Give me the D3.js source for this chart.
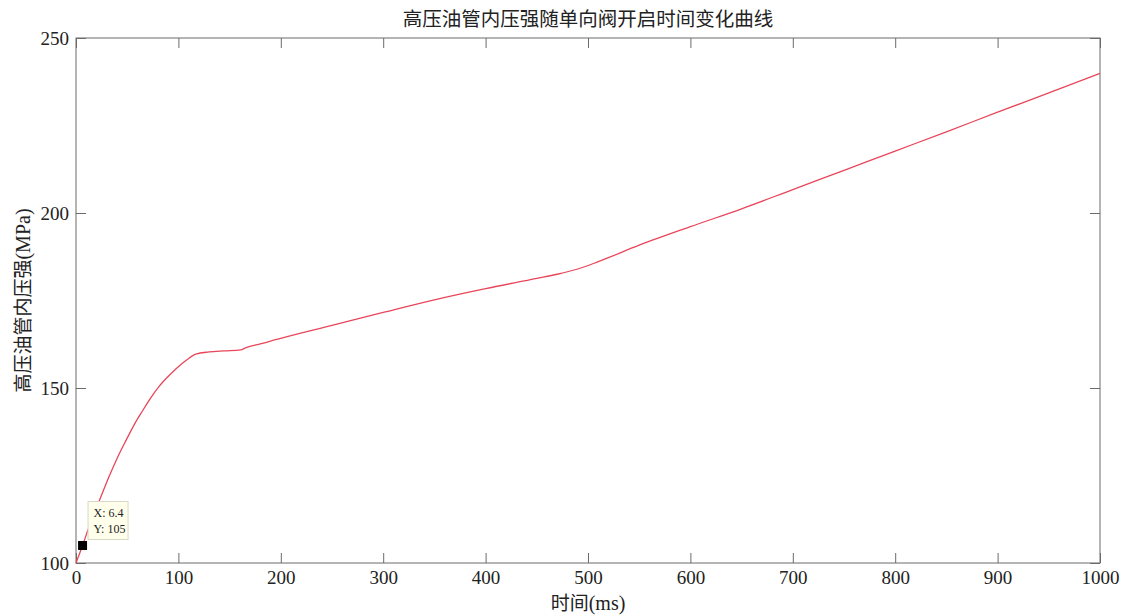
<!DOCTYPE html>
<html><head><meta charset="utf-8">
<script src="https://cdn.jsdelivr.net/npm/d3@7"></script>
<style>body{margin:0;background:#fff}</style>
</head><body>
<svg id="c" width="1129" height="615"></svg>
<script>
const title = "高压油管内压强随单向阀开启时间变化曲线";
const xLabel = ["时间", "(ms)"];
const yLabel = ["高压油管内压强", "(MPa)"];
const xTicks = [0,100,200,300,400,500,600,700,800,900,1000];
const yTicks = [100,150,200,250];
const timeMs = [0,6.4,13,20,32,40,49,57,65,73,81,90,98,108,117,130,145,161,165,169,180,195,200,250,300,350,400,450,470,490,510,550,600,650,700,750,800,850,900,950,1000];
const pressure = [100,105,110.5,115.7,124.5,129.8,135.1,139.6,143.5,147.2,150.4,153.3,155.6,158.0,159.7,160.3,160.6,160.9,161.4,161.8,162.6,163.8,164.2,167.9,171.6,175.2,178.4,181.3,182.5,184.0,186.1,190.8,196.1,201.2,206.7,212.2,217.7,223.2,228.8,234.3,239.9];
const tip = {x:6.4, y:105};

const svg = d3.select("#c");
const L=76,R=1100,T=38,B=563;
const x = d3.scaleLinear().domain([0,1000]).range([L,R]);
const y = d3.scaleLinear().domain([100,250]).range([B,T]);
const serif = "'Liberation Serif','Times New Roman',serif";
const cjk = "'Noto Sans CJK SC',sans-serif";
const axisCol = "#6b6b6b";
const txtCol = "#222";

svg.append("rect").attr("x",L).attr("y",T).attr("width",R-L).attr("height",B-T)
  .attr("fill","none").attr("stroke",axisCol).attr("stroke-width",1);

const gx = svg.append("g").attr("transform",`translate(0,${B})`)
  .call(d3.axisBottom(x).tickValues(xTicks).tickSize(-10).tickPadding(8).tickFormat(d3.format("d")));
const gxt = svg.append("g").attr("transform",`translate(0,${T})`)
  .call(d3.axisTop(x).tickValues(xTicks).tickSize(-10).tickFormat(""));
const gy = svg.append("g").attr("transform",`translate(${L},0)`)
  .call(d3.axisLeft(y).tickValues(yTicks).tickSize(-10).tickPadding(7).tickFormat(d3.format("d")));
const gyr = svg.append("g").attr("transform",`translate(${R},0)`)
  .call(d3.axisRight(y).tickValues(yTicks).tickSize(-10).tickFormat(""));
[gx,gxt,gy,gyr].forEach(g=>{
  g.select(".domain").remove();
  g.selectAll(".tick line").attr("stroke",axisCol);
  g.selectAll("text").attr("font-family",serif).attr("font-size",19).attr("fill",txtCol);
});

svg.append("path")
  .datum(timeMs.map((t,i)=>[t,pressure[i]]))
  .attr("fill","none").attr("stroke","#e8465a").attr("stroke-width",1.3)
  .attr("d", d3.line().curve(d3.curveMonotoneX).x(d=>x(d[0])).y(d=>y(d[1])));

svg.append("text").attr("x",(L+R)/2).attr("y",26).attr("text-anchor","middle")
  .attr("font-family",cjk).attr("font-size",19.5).attr("fill",txtCol).text(title);
svg.append("text").attr("x",(L+R)/2).attr("y",610).attr("text-anchor","middle").attr("fill",txtCol)
  .selectAll("tspan").data([[xLabel[0],cjk,19],[xLabel[1],serif,20]]).join("tspan")
  .attr("font-family",d=>d[1]).attr("font-size",d=>d[2]).text(d=>d[0]);
svg.append("text").attr("transform",`translate(30,${(T+B)/2}) rotate(-90)`).attr("text-anchor","middle")
  .attr("fill",txtCol)
  .selectAll("tspan").data([[yLabel[0],cjk,19],[yLabel[1],serif,20]]).join("tspan")
  .attr("font-family",d=>d[1]).attr("font-size",d=>d[2]).text(d=>d[0]);

const tx = x(tip.x), ty = y(tip.y);
svg.append("rect").attr("x",tx-4.5).attr("y",ty-4.5).attr("width",9).attr("height",9).attr("fill","#000");
const bx = tx+5.5, by = ty-44;
svg.append("rect").attr("x",bx).attr("y",by).attr("width",40).attr("height",38)
  .attr("fill","#ffffeb").attr("stroke","#d8d8c8").attr("stroke-width",1);
svg.append("text").attr("x",bx+5.5).attr("y",by+15).attr("font-family",serif).attr("font-size",12).attr("fill",txtCol).text("X: "+tip.x);
svg.append("text").attr("x",bx+5.5).attr("y",by+31).attr("font-family",serif).attr("font-size",12).attr("fill",txtCol).text("Y: "+tip.y);
</script>
</body></html>
